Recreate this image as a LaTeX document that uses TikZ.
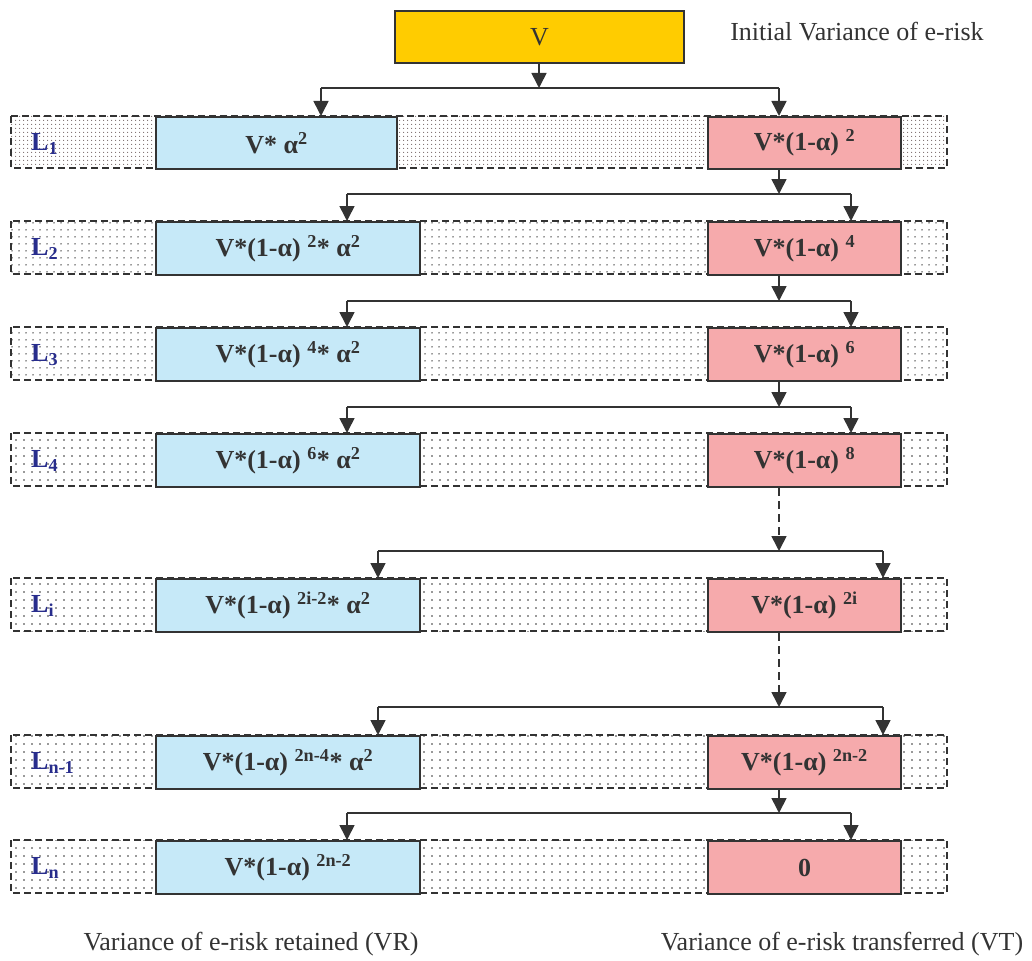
\documentclass[tikz,border=0pt]{standalone}
\usepackage{fontspec}
\setmainfont{Liberation Serif}
\usetikzlibrary{arrows.meta,patterns.meta}
\definecolor{vgold}{RGB}{255,204,0}
\definecolor{vrblue}{RGB}{198,233,248}
\definecolor{vtpink}{RGB}{246,170,172}
\definecolor{ink}{RGB}{51,51,51}
\definecolor{lvlblue}{RGB}{40,45,140}
\definecolor{dotgray}{RGB}{120,105,105}

\begin{document}
\begin{tikzpicture}[x=1pt,y=-1pt,
  box/.style={draw=ink, line width=2pt, inner sep=0pt, anchor=north west,
    font=\fontsize{26}{30}\selectfont\bfseries, text=ink},
  vrbox/.style={box, fill=vrblue, minimum width=264pt, minimum height=53pt},
  vtbox/.style={box, fill=vtpink, minimum width=193pt, minimum height=53pt},
  band/.style={draw=ink, line width=1.5pt, dash pattern=on 7pt off 4pt},
  densedots/.style={pattern={Dots[distance=4pt,radius=0.7pt]}, pattern color=dotgray},
  middots/.style={pattern={Dots[distance=6.5pt,radius=0.8pt]}, pattern color=ink},
  sparsedots/.style={pattern={Dots[distance=8pt,radius=0.8pt]}, pattern color=ink},
  lvl/.style={anchor=west, inner sep=0pt, text=lvlblue, font=\fontsize{26}{28}\selectfont\bfseries},
  caption/.style={inner sep=0pt, font=\fontsize{26}{30}\selectfont, text=ink},
  flow/.style={draw=ink, line width=1.6pt},
  tip/.style={-{Triangle[width=15pt,length=15pt]}},
  gap/.style={dash pattern=on 8pt off 5pt},
]
\useasboundingbox (0,0) rectangle (1032,960);

% level bands behind the boxes
\draw[band, densedots]  (11,116) rectangle (947,168);
\draw[band, middots]    (11,221) rectangle (947,274);
\draw[band, middots]    (11,327) rectangle (947,380);
\draw[band, sparsedots] (11,433) rectangle (947,486);
\draw[band, sparsedots] (11,578) rectangle (947,631);
\draw[band, sparsedots] (11,735) rectangle (947,788);
\draw[band, sparsedots] (11,840) rectangle (947,893);

% initial variance
\node[box, fill=vgold, minimum width=289pt, minimum height=52pt,
      font=\fontsize{26}{30}\selectfont] (v) at (394,10) {V};
\node[caption] (init) at (857,32) {Initial Variance of e-risk};

% retained (VR) and transferred (VT) boxes
\node[vrbox, minimum width=241pt, minimum height=52pt] (b1) at (155,116) {V* α\textsuperscript{2}};
\node[vtbox, minimum height=52pt] (p1) at (707,116) {V*(1-α) \textsuperscript{2}};

\node[vrbox] (b2) at (155,221) {V*(1-α) \textsuperscript{2}* α\textsuperscript{2}};
\node[vtbox] (p2) at (707,221) {V*(1-α) \textsuperscript{4}};

\node[vrbox] (b3) at (155,327) {V*(1-α) \textsuperscript{4}* α\textsuperscript{2}};
\node[vtbox] (p3) at (707,327) {V*(1-α) \textsuperscript{6}};

\node[vrbox] (b4) at (155,433) {V*(1-α) \textsuperscript{6}* α\textsuperscript{2}};
\node[vtbox] (p4) at (707,433) {V*(1-α) \textsuperscript{8}};

\node[vrbox] (bi) at (155,578) {V*(1-α) \textsuperscript{2i-2}* α\textsuperscript{2}};
\node[vtbox] (pi) at (707,578) {V*(1-α) \textsuperscript{2i}};

\node[vrbox] (bm) at (155,735) {V*(1-α) \textsuperscript{2n-4}* α\textsuperscript{2}};
\node[vtbox] (pm) at (707,735) {V*(1-α) \textsuperscript{2n-2}};

\node[vrbox] (bn) at (155,840) {V*(1-α) \textsuperscript{2n-2}};
\node[vtbox] (pn) at (707,840) {0};

% level labels
\node[lvl] (l1) at (31,144) {L\textsubscript{1}};
\node[lvl] (l2) at (31,249) {L\textsubscript{2}};
\node[lvl] (l3) at (31,355) {L\textsubscript{3}};
\node[lvl] (l4) at (31,461) {L\textsubscript{4}};
\node[lvl] (li) at (31,606) {L\textsubscript{i}};
\node[lvl] (lm) at (31,763) {L\textsubscript{n-1}};
\node[lvl] (ln) at (31,868) {L\textsubscript{n}};

% column captions
\node[caption] (vr) at (251,944) {Variance of e-risk retained (VR)};
\node[caption] (vt) at (842,944) {Variance of e-risk transferred (VT)};

% split of the initial variance
\coordinate (h0)  at (539,88);
\coordinate (h0l) at (321,88);
\coordinate (h0r) at (779,88);
\draw[flow, tip] (v.south -| h0) -- (h0);
\draw[flow] (h0l) -- (h0r);
\draw[flow, tip] (h0l) -- (h0l |- b1.north);
\draw[flow, tip] (h0r) -- (h0r |- p1.north);

% each transferred share splits again on the next level
\foreach \src/\nb/\np/\y/\xl/\xr/\st in {
    p1/b2/p2/194/347/851/solid,
    p2/b3/p3/301/347/851/solid,
    p3/b4/p4/407/347/851/solid,
    p4/bi/pi/551/378/883/gap,
    pi/bm/pm/707/378/883/gap,
    pm/bn/pn/813/347/851/solid}{
  \coordinate (c)  at (779,\y);
  \coordinate (cl) at (\xl,\y);
  \coordinate (cr) at (\xr,\y);
  \draw[flow, tip, \st] (c |- \src.south) -- (c);
  \draw[flow] (cl) -- (cr);
  \draw[flow, tip] (cl) -- (cl |- \nb.north);
  \draw[flow, tip] (cr) -- (cr |- \np.north);
}
\end{tikzpicture}
\end{document}
